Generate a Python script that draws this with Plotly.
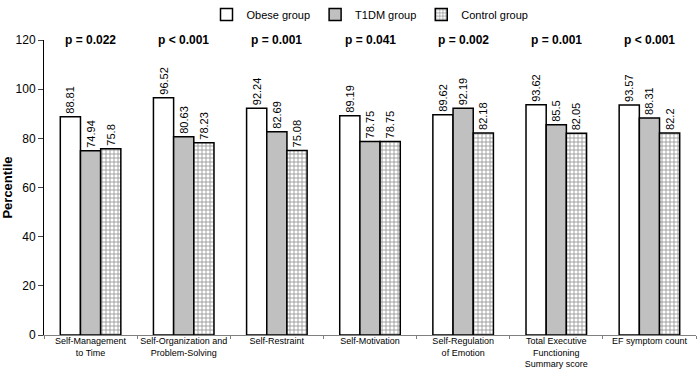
import plotly.graph_objects as go

categories = ["Self-Management<br>to Time", "Self-Organization and<br>Problem-Solving", "Self-Restraint",
              "Self-Motivation", "Self-Regulation<br>of Emotion",
              "Total Executive<br>Functioning<br>Summary score", "EF symptom count"]
obese = [88.81, 96.52, 92.24, 89.19, 89.62, 93.62, 93.57]
t1dm = [74.94, 80.63, 82.69, 78.75, 92.19, 85.5, 88.31]
control = [75.8, 78.23, 75.08, 78.75, 82.18, 82.05, 82.2]
p_values = ["p = 0.022", "p < 0.001", "p = 0.001", "p = 0.041", "p = 0.002", "p = 0.001", "p < 0.001"]

font = "Liberation Sans, Arial, sans-serif"
fig = go.Figure()
common = dict(textposition="outside", textangle=-90, cliponaxis=False, constraintext="none",
              textfont=dict(family=font, size=11, color="black"))
fig.add_trace(go.Bar(name="Obese group", x=categories, y=obese, text=[str(v) for v in obese],
                     marker=dict(color="white", line=dict(color="black", width=1.5)), **common))
fig.add_trace(go.Bar(name="T1DM group", x=categories, y=t1dm, text=[str(v) for v in t1dm],
                     marker=dict(color="#c0c0c0", line=dict(color="black", width=1.5)), **common))
fig.add_trace(go.Bar(name="Control group", x=categories, y=control, text=[str(v) for v in control],
                     marker=dict(color="white", line=dict(color="black", width=1.5),
                                 pattern=dict(shape="+", size=4, solidity=0.4, fgcolor="#333333", bgcolor="white")),
                     **common))

for c, p in zip(categories, p_values):
    fig.add_annotation(x=c, y=120, text="<b>%s</b>" % p, showarrow=False, yanchor="middle",
                       font=dict(family=font, size=12, color="black"))

fig.update_layout(
    width=698, height=370, barmode="group", bargap=0.35, bargroupgap=0,
    plot_bgcolor="white", paper_bgcolor="white",
    margin=dict(l=44, r=2, t=40, b=35),
    font=dict(family=font, size=11, color="black"),
    legend=dict(orientation="h", x=0.5, y=1.0, xanchor="center", yanchor="top", yref="container",
                font=dict(size=11), traceorder="normal", bgcolor="rgba(0,0,0,0)",
                itemwidth=30, tracegroupgap=0),
    xaxis=dict(showline=True, linecolor="#808080", ticks="outside", tickson="boundaries", ticklen=3,
               tickcolor="#808080", tickfont=dict(size=9), tickangle=0, automargin=False,
               ticklabelstandoff=-3),
    yaxis=dict(range=[0, 120], dtick=20, showline=True, linecolor="black", ticks="outside",
               ticklen=5, showgrid=False, zeroline=False, tickfont=dict(size=12), automargin=False,
               title=dict(text="<b>Percentile</b>", font=dict(size=13))),
)
fig.write_html("out.html", config={"displayModeBar": False},
               post_script="document.body.style.margin='0';document.body.style.overflow='hidden';")
